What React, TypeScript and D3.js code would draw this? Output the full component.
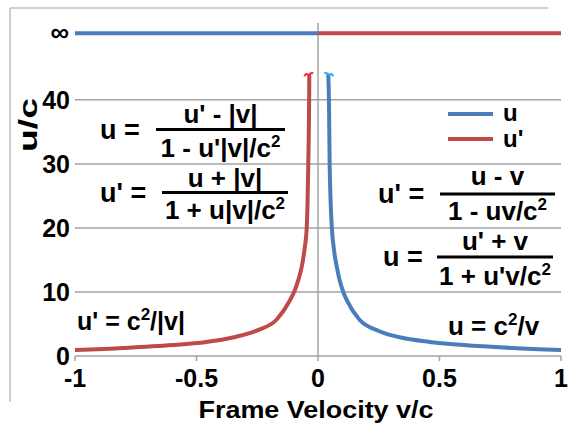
import * as d3 from "d3";
import React from "react";

// values
const blueV = [0.0424, 0.045, 0.048, 0.052, 0.057, 0.066, 0.077, 0.088, 0.104, 0.12, 0.17, 0.25, 0.35, 0.46, 0.6, 0.8, 1.0];
const blueU = [44, 40, 30, 24, 20, 16.5, 14, 12, 10, 8.6, 5.7, 3.9, 2.8, 2.2, 1.7, 1.25, 0.95];
const redV = [-1.0, -0.8, -0.6, -0.46, -0.35, -0.25, -0.17, -0.12, -0.095, -0.08, -0.067, -0.056, -0.0465, -0.043, -0.04, -0.0365, -0.0358];
const redU = [0.95, 1.25, 1.7, 2.2, 2.9, 4.0, 5.7, 8.4, 10.3, 12, 13.9, 16.5, 20, 24, 30, 40, 44];

const infLevel = 50.4;
const xTicks = [-1, -0.5, 0, 0.5, 1];
const xTickLabels = ["-1", "-0.5", "0", "0.5", "1"];
const yTicks = [0, 10, 20, 30, 40];
const yTickLabels = ["0", "10", "20", "30", "40"];
const seriesNames = ["u", "u'"];

const BLUE = "#4a7ebb";
const RED = "#be4b48";
const GRID = "#a3a3a3";
const FONT = "'Liberation Sans', Arial, sans-serif";

type Pt = [number, number];

const Frac: React.FC<{ lhs: string; lx: number; x0: number; x1: number; y: number; num: React.ReactNode; den: React.ReactNode; nb: number; db: number }> = ({
  lhs, lx, x0, x1, y, num, den, nb, db,
}) => (
  <g>
    <text x={lx} y={y + 9} fontSize={27}>{lhs}</text>
    <line x1={x0} x2={x1} y1={y} y2={y} stroke="#000" strokeWidth={3} />
    <text x={(x0 + x1) / 2} y={nb} fontSize={26} textAnchor="middle">{num}</text>
    <text x={(x0 + x1) / 2} y={db} fontSize={26} textAnchor="middle">{den}</text>
  </g>
);

const Sq = () => (
  <tspan fontSize={17} dy={-10}>2</tspan>
);

export default function App() {
  const x = d3.scaleLinear().domain([-1, 1]).range([75, 561]);
  const y = d3.scaleLinear().domain([0, 52]).range([356, 23]);

  const line = d3
    .line<Pt>()
    .x((d) => x(d[0]))
    .y((d) => y(d[1]))
    .curve(d3.curveMonotoneX);

  const blue: Pt[] = blueV.map((v, i) => [v, blueU[i]]);
  const red: Pt[] = redV.map((v, i) => [v, redU[i]]);
  const blueTop = blue[0];
  const redTop = red[red.length - 1];
  const hook = "M-5,2 Q-3,-2 -1,1 Q1,-2 4,-1";

  return (
    <div style={{ position: "fixed", left: 0, top: 0 }}>
      <svg width={568} height={426} style={{ display: "block", background: "#fff" }} fontFamily={FONT} fontWeight="bold">
        {/* outer frame */}
        <line x1={10} x2={548} y1={8} y2={8} stroke="#c0c0c0" strokeWidth={1.5} />
        <line x1={10} x2={10} y1={8} y2={402} stroke="#c0c0c0" strokeWidth={1.5} />

        {/* gridlines */}
        {yTicks.slice(1).map((t) => (
          <line key={t} x1={x(-1)} x2={x(1)} y1={y(t)} y2={y(t)} stroke={GRID} strokeWidth={1.5} />
        ))}
        {/* x axis */}
        <line x1={x(-1)} x2={x(1)} y1={y(0)} y2={y(0)} stroke={GRID} strokeWidth={1.5} />
        {xTicks.map((t) => (
          <line key={t} x1={x(t)} x2={x(t)} y1={y(0)} y2={y(0) + 5} stroke={GRID} strokeWidth={1.5} />
        ))}
        {/* vertical axis at v = 0 */}
        <line x1={x(0)} x2={x(0)} y1={y(52)} y2={y(0)} stroke={GRID} strokeWidth={1.5} />

        {/* tick labels */}
        {xTicks.map((t, i) => (
          <text key={t} x={x(t)} y={387} fontSize={25} textAnchor="middle">{xTickLabels[i]}</text>
        ))}
        {yTicks.map((t, i) => (
          <text key={t} x={70} y={y(t) + 9} fontSize={25} textAnchor="end">{yTickLabels[i]}</text>
        ))}
        <text x={69} y={y(infLevel) + 8} fontSize={26} textAnchor="end">∞</text>

        {/* axis titles */}
        <text x={316} y={418} fontSize={24} textAnchor="middle" textLength={235} lengthAdjust="spacingAndGlyphs">Frame Velocity v/c</text>
        <text transform="translate(37,125) rotate(-90)" fontSize={25} textAnchor="middle" textLength={54} lengthAdjust="spacingAndGlyphs">u/c</text>

        {/* infinity level */}
        <line x1={x(-1)} x2={x(0)} y1={y(infLevel)} y2={y(infLevel)} stroke={BLUE} strokeWidth={4} />
        <line x1={x(0)} x2={x(1)} y1={y(infLevel)} y2={y(infLevel)} stroke={RED} strokeWidth={4} />

        {/* curves */}
        <path d={line(red) ?? ""} fill="none" stroke={RED} strokeWidth={4} />
        <path d={line(blue) ?? ""} fill="none" stroke={BLUE} strokeWidth={4} />
        <path d={hook} transform={`translate(${x(redTop[0])},${y(redTop[1])})`} fill="none" stroke="#ff2a2a" strokeWidth={2} />
        <path d={hook} transform={`translate(${x(blueTop[0])},${y(blueTop[1])}) scale(-1,1)`} fill="none" stroke="#2aa8f0" strokeWidth={2} />

        {/* legend */}
        <line x1={448} x2={493} y1={114} y2={114} stroke={BLUE} strokeWidth={4} />
        <text x={503} y={121} fontSize={24}>{seriesNames[0]}</text>
        <line x1={448} x2={493} y1={139} y2={139} stroke={RED} strokeWidth={4} />
        <text x={503} y={147} fontSize={24}>{seriesNames[1]}</text>

        {/* equations */}
        <Frac lhs="u =" lx={100} x0={156} x1={285} y={129.5} nb={123} db={157}
          num={<>u' - |v|</>} den={<>1 - u'|v|/c<Sq /></>} />
        <Frac lhs="u' =" lx={100} x0={162} x1={288} y={192.5} nb={187} db={219}
          num={<>u + |v|</>} den={<>1 + u|v|/c<Sq /></>} />
        <Frac lhs="u' =" lx={378} x0={440} x1={555} y={194} nb={185} db={220}
          num={<>u - v</>} den={<>1 - uv/c<Sq /></>} />
        <Frac lhs="u =" lx={383} x0={437} x1={553} y={257} nb={250} db={285}
          num={<>u' + v</>} den={<>1 + u'v/c<Sq /></>} />

        <text x={77} y={330} fontSize={25}>u' = c<Sq /><tspan dy={10}>/|v|</tspan></text>
        <text x={448} y={335} fontSize={26}>u = c<Sq /><tspan dy={10}>/v</tspan></text>
      </svg>
    </div>
  );
}
